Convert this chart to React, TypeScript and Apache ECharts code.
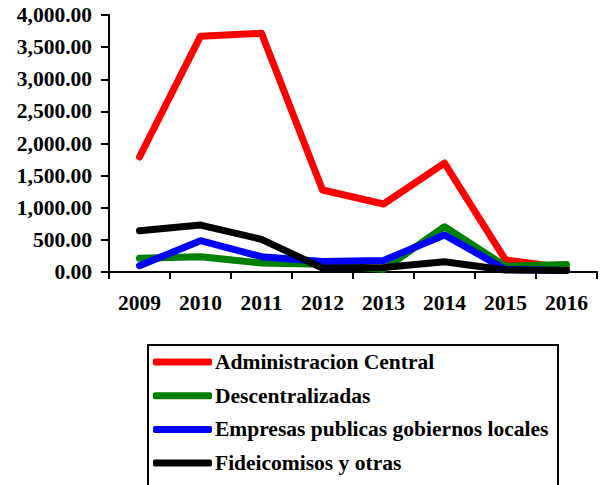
import React, { useEffect, useRef } from "react";
import * as echarts from "echarts";

const years = ["2009", "2010", "2011", "2012", "2013", "2014", "2015", "2016"];

const administracionCentral = [1790, 3670, 3715, 1276, 1058, 1696, 187, 62];
const descentralizadas = [213, 238, 140, 120, 40, 705, 90, 117];
const empresasPublicas = [98, 487, 238, 165, 180, 576, 40, 25];
const fideicomisos = [643, 731, 509, 60, 70, 160, 30, 25];

const seriesNames = [
  "Administracion Central",
  "Descentralizadas",
  "Empresas publicas gobiernos locales",
  "Fideicomisos y otras",
];
const seriesColors = ["#ff0000", "#008000", "#0000ff", "#000000"];

const FONT = "'Liberation Serif', 'Times New Roman', serif";
const FONT_SIZE = 21.5;

function formatValue(v: number): string {
  return v.toLocaleString("en-US", { minimumFractionDigits: 2, maximumFractionDigits: 2 });
}

export default function App() {
  const ref = useRef<HTMLDivElement>(null);

  useEffect(() => {
    if (!ref.current) return;
    const chart = echarts.init(ref.current, undefined, { renderer: "svg" });
    const values = [administracionCentral, descentralizadas, empresasPublicas, fideicomisos];

    chart.setOption({
      animation: false,
      backgroundColor: "#ffffff",
      textStyle: { fontFamily: FONT },
      grid: { left: 109, top: 15, width: 488, height: 257, containLabel: false },
      xAxis: {
        type: "category",
        data: years,
        boundaryGap: true,
        axisLine: { lineStyle: { color: "#000", width: 2 } },
        axisTick: { show: true, length: 7, lineStyle: { color: "#000", width: 2 } },
        axisLabel: {
          margin: 20,
          color: "#000",
          fontFamily: FONT,
          fontWeight: "bold",
          fontSize: FONT_SIZE,
        },
        splitLine: { show: false },
      },
      yAxis: {
        type: "value",
        min: 0,
        max: 4000,
        interval: 500,
        axisLine: { show: true, lineStyle: { color: "#000", width: 2 } },
        axisTick: { show: true, length: 8, lineStyle: { color: "#000", width: 2 } },
        axisLabel: {
          margin: 17,
          color: "#000",
          fontFamily: FONT,
          fontWeight: "bold",
          fontSize: FONT_SIZE,
          formatter: (v: number) => formatValue(v),
        },
        splitLine: { show: false },
      },
      legend: {
        orient: "vertical",
        left: 153,
        top: 351,
        padding: 0,
        itemGap: 11.7,
        itemWidth: 59,
        itemHeight: 7,
        icon: "roundRect",
        data: seriesNames,
        textStyle: {
          color: "#000",
          fontFamily: FONT,
          fontWeight: "bold",
          fontSize: FONT_SIZE,
          lineHeight: 22,
          padding: [0, 0, 0, -2],
        },
      },
      graphic: [
        {
          type: "rect",
          shape: { x: 148, y: 345, width: 410, height: 160 },
          style: { fill: "none", stroke: "#000", lineWidth: 2 },
          silent: true,
        },
      ],
      series: seriesNames.map((name, i) => ({
        name,
        type: "line",
        data: values[i],
        symbol: "none",
        color: seriesColors[i],
        lineStyle: { color: seriesColors[i], width: 7, cap: "round", join: "round" },
      })),
    });

    return () => chart.dispose();
  }, []);

  return <div ref={ref} style={{ width: 600, height: 485, position: "absolute", left: 0, top: 0 }} />;
}
